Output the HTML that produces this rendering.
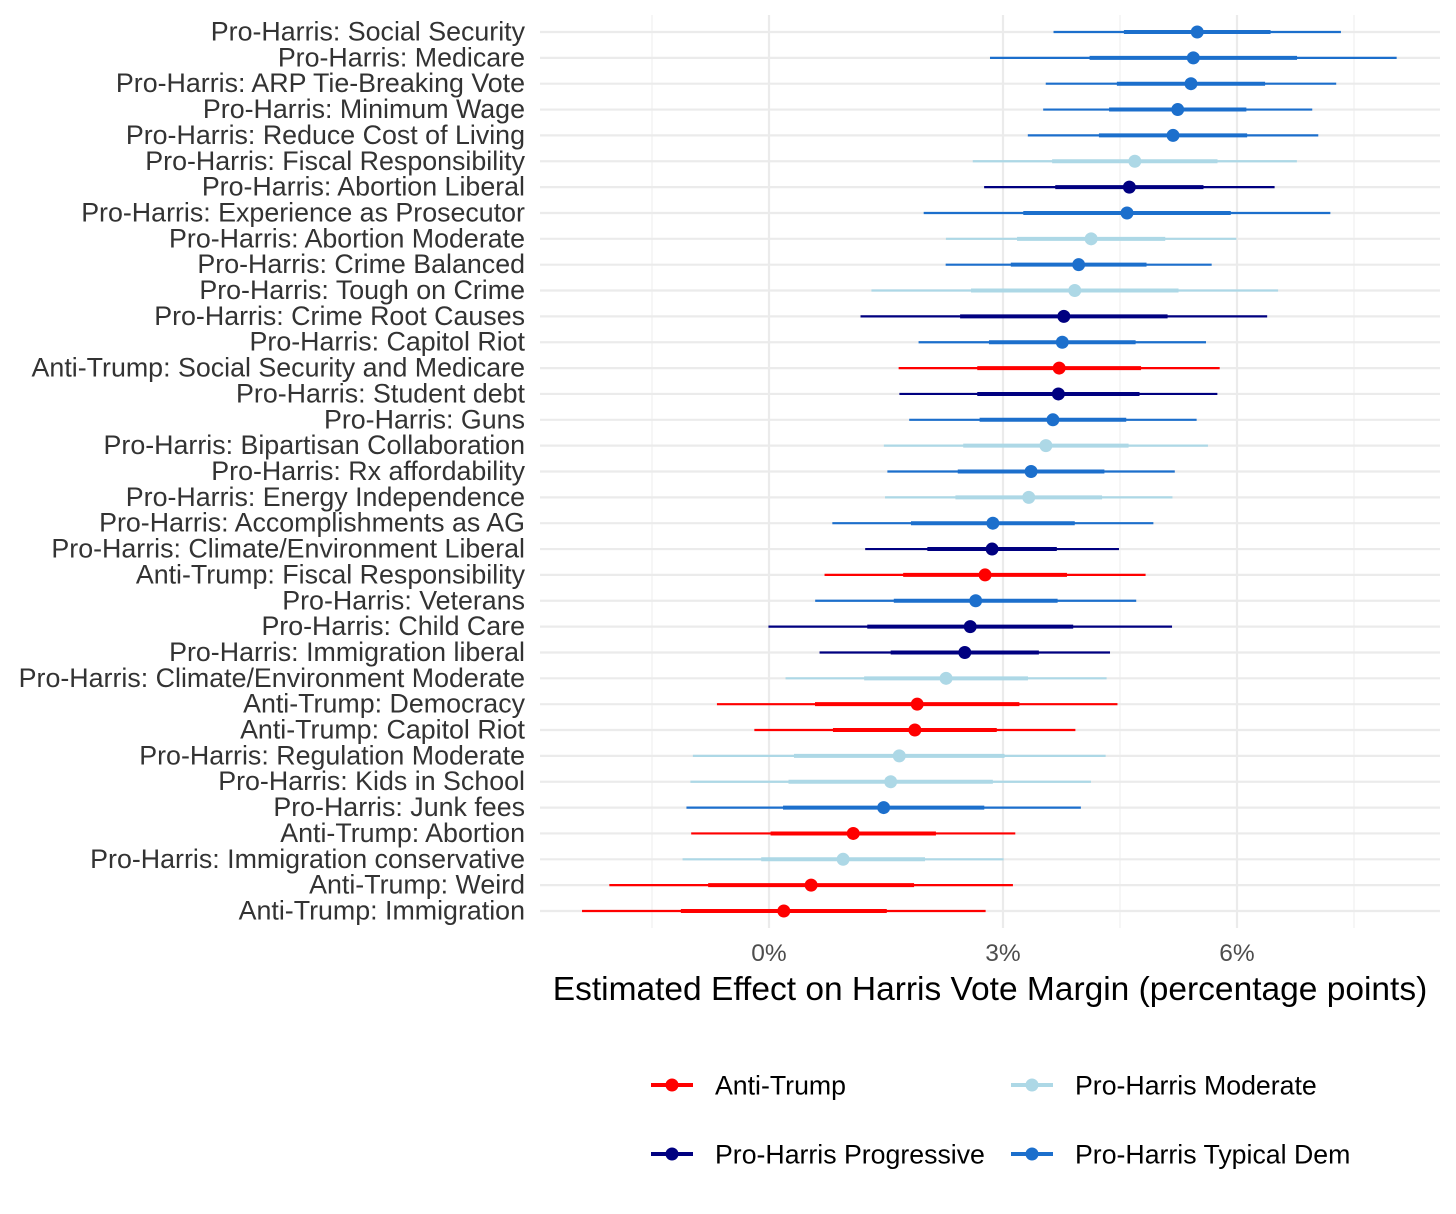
<!DOCTYPE html>
<html><head><meta charset="utf-8"><style>
html,body{margin:0;padding:0;background:#fff;}
svg{display:block;font-family:"Liberation Sans",sans-serif;}
</style></head><body>
<svg id="chart" width="1456" height="1214" viewBox="0 0 1456 1214" xmlns="http://www.w3.org/2000/svg"></svg>
<script>
const labels=["Pro-Harris: Social Security","Pro-Harris: Medicare","Pro-Harris: ARP Tie-Breaking Vote","Pro-Harris: Minimum Wage","Pro-Harris: Reduce Cost of Living","Pro-Harris: Fiscal Responsibility","Pro-Harris: Abortion Liberal","Pro-Harris: Experience as Prosecutor","Pro-Harris: Abortion Moderate","Pro-Harris: Crime Balanced","Pro-Harris: Tough on Crime","Pro-Harris: Crime Root Causes","Pro-Harris: Capitol Riot","Anti-Trump: Social Security and Medicare","Pro-Harris: Student debt","Pro-Harris: Guns","Pro-Harris: Bipartisan Collaboration","Pro-Harris: Rx affordability","Pro-Harris: Energy Independence","Pro-Harris: Accomplishments as AG","Pro-Harris: Climate/Environment Liberal","Anti-Trump: Fiscal Responsibility","Pro-Harris: Veterans","Pro-Harris: Child Care","Pro-Harris: Immigration liberal","Pro-Harris: Climate/Environment Moderate","Anti-Trump: Democracy","Anti-Trump: Capitol Riot","Pro-Harris: Regulation Moderate","Pro-Harris: Kids in School","Pro-Harris: Junk fees","Anti-Trump: Abortion","Pro-Harris: Immigration conservative","Anti-Trump: Weird","Anti-Trump: Immigration"];
const estimates=[5.49,5.44,5.41,5.24,5.18,4.69,4.62,4.59,4.13,3.97,3.92,3.78,3.76,3.72,3.71,3.64,3.55,3.36,3.33,2.87,2.86,2.77,2.65,2.58,2.51,2.27,1.90,1.87,1.67,1.56,1.47,1.08,0.95,0.54,0.19];
const stdErrors=[0.94,1.33,0.95,0.88,0.95,1.06,0.95,1.33,0.95,0.87,1.33,1.33,0.94,1.05,1.04,0.94,1.06,0.94,0.94,1.05,0.83,1.05,1.05,1.32,0.95,1.05,1.31,1.05,1.35,1.31,1.29,1.06,1.05,1.32,1.32];
const groups=["T","T","T","T","T","M","P","T","M","T","M","P","T","A","P","T","M","T","M","T","P","A","T","P","P","M","A","A","M","M","T","A","M","A","A"];
const xTicks=[0,3,6];
const xTickLabels=["0%","3%","6%"];
const groupColors={A:"#ff0000",P:"#000080",M:"#add8e6",T:"#1c6fcc"};
const groupNames={A:"anti-trump",P:"pro-harris-progressive",M:"pro-harris-moderate",T:"pro-harris-typical-dem"};

const svg=document.getElementById('chart');
const NS="http://www.w3.org/2000/svg";
const px0=540,px1=1440,py0=15,py1=928;
const xs=v=>769+v*78;
const ys=i=>32+i*(911-32)/(labels.length-1);
function mk(tag,attrs,parent){const e=document.createElementNS(NS,tag);for(const k in attrs)e.setAttribute(k,attrs[k]);(parent||svg).appendChild(e);return e;}

const grid=mk('g',{});


[-1.5,4.5,7.5].forEach(v=>mk('line',{x1:xs(v),x2:xs(v),y1:py0,y2:py1,stroke:'#f0f0f0','stroke-width':1.2},grid));
xTicks.forEach(v=>mk('line',{x1:xs(v),x2:xs(v),y1:py0,y2:py1,stroke:'#ebebeb','stroke-width':2.2},grid));
labels.forEach((l,i)=>mk('line',{x1:px0,x2:px1,y1:ys(i),y2:ys(i),stroke:'#ebebeb','stroke-width':2.2},grid));

const yl=mk('g',{});


labels.forEach((l,i)=>{const t=mk('text',{x:525,y:ys(i)+8.5,'text-anchor':'end','font-size':26.8,fill:'#333'},yl);t.textContent=l;

});

const xl=mk('g',{});


xTicks.forEach((v,i)=>{const t=mk('text',{x:xs(v),y:961,'text-anchor':'middle','font-size':24.5,fill:'#4d4d4d'},xl);t.textContent=xTickLabels[i];

});
const xt=mk('text',{x:990,y:1000,'text-anchor':'middle','font-size':33.5,fill:'#000'});
xt.textContent="Estimated Effect on Harris Vote Margin (percentage points)";



const marks=mk('g',{});


labels.forEach((l,i)=>{
  const c=groupColors[groups[i]],y=ys(i),e=estimates[i],s=stdErrors[i];
  const g=mk('g',{},marks);
  
  
  mk('line',{x1:xs(e-1.96*s),x2:xs(e+1.96*s),y1:y,y2:y,stroke:c,'stroke-width':2.2},g);
  mk('line',{x1:xs(e-s),x2:xs(e+s),y1:y,y2:y,stroke:c,'stroke-width':4},g);
  mk('circle',{cx:xs(e),cy:y,r:6.5,fill:c},g);
});

const legend=mk('g',{});


[["A",651,1085,"Anti-Trump"],["M",1011,1085,"Pro-Harris Moderate"],["P",651,1154,"Pro-Harris Progressive"],["T",1011,1154,"Pro-Harris Typical Dem"]].forEach(d=>{
  const g=mk('g',{},legend);
  
  
  const c=groupColors[d[0]];
  mk('line',{x1:d[1],x2:d[1]+42,y1:d[2],y2:d[2],stroke:c,'stroke-width':4},g);
  mk('circle',{cx:d[1]+21,cy:d[2],r:6.5,fill:c},g);
  const t=mk('text',{x:d[1]+64,y:d[2]+9.5,'font-size':26.7,fill:'#000'},g);t.textContent=d[3];
});
</script>
</body></html>
